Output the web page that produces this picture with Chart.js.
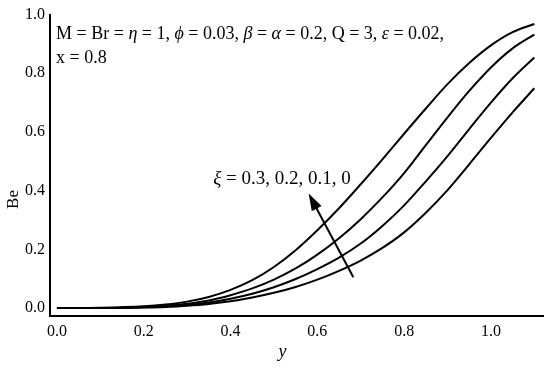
<!DOCTYPE html>
<html>
<head>
<meta charset="utf-8">
<script src="https://cdn.jsdelivr.net/npm/chart.js@4.4.1/dist/chart.umd.min.js"></script>
<style>
  html, body { margin: 0; padding: 0; background: #fff; }
  #wrap { width: 550px; height: 369px; }
</style>
</head>
<body>
<div id="wrap"><canvas id="chart"></canvas></div>
<script>
// DATA
const yPos = [0, 0.1, 0.2, 0.25, 0.3, 0.35, 0.4, 0.45, 0.5, 0.55, 0.6, 0.65, 0.7, 0.75, 0.8, 0.85, 0.9, 0.95, 1.0, 1.05, 1.1];
const xiValues = ['0', '0.1', '0.2', '0.3'];
const beXi0  = [0, 0.001, 0.006, 0.012, 0.022, 0.038, 0.062, 0.095, 0.14, 0.197, 0.265, 0.34, 0.422, 0.507, 0.594, 0.68, 0.763, 0.835, 0.895, 0.94, 0.968];
const beXi01 = [0, 0, 0.004, 0.008, 0.015, 0.026, 0.044, 0.067, 0.097, 0.135, 0.182, 0.238, 0.303, 0.377, 0.46, 0.555, 0.65, 0.74, 0.82, 0.885, 0.932];
const beXi02 = [0, 0, 0.003, 0.006, 0.011, 0.019, 0.032, 0.049, 0.071, 0.099, 0.133, 0.172, 0.22, 0.28, 0.35, 0.432, 0.518, 0.61, 0.7, 0.783, 0.854];
const beXi03 = [0, 0, 0.002, 0.004, 0.008, 0.014, 0.023, 0.036, 0.052, 0.072, 0.097, 0.127, 0.162, 0.205, 0.258, 0.325, 0.402, 0.49, 0.58, 0.667, 0.749];
const xTicks = [0, 0.2, 0.4, 0.6, 0.8, 1.0];
const yTicks = [0, 0.2, 0.4, 0.6, 0.8, 1.0];

const series = [beXi0, beXi01, beXi02, beXi03];
const serif = '"Liberation Serif", "DejaVu Serif", serif';

function toPoints(vals){
  return yPos.map((x, i) => ({x: x, y: vals[i]}));
}

// annotations: axis titles, parameter text, xi label and arrow
const notes = {
  id: 'notes',
  afterDatasetsDraw(chart){
    const c = chart.ctx;
    const xs = chart.scales.x, ys = chart.scales.y;
    const px = v => xs.getPixelForValue(v);
    const py = v => ys.getPixelForValue(v);

    function runs(parts, x, y, size){
      let cx = x;
      parts.forEach(p => {
        c.font = (p[1] ? 'italic ' : '') + size + 'px ' + serif;
        c.fillText(p[0], cx, y);
        cx += c.measureText(p[0]).width;
      });
    }

    c.save();
    c.fillStyle = '#000';
    c.textBaseline = 'alphabetic';
    c.textAlign = 'left';
    runs([['M = Br = ', 0], ['\u03b7', 1], [' = 1, ', 0], ['\u03d5', 1], [' = 0.03, ', 0],
          ['\u03b2', 1], [' = ', 0], ['\u03b1', 1], [' = 0.2, Q = 3, ', 0], ['\u03b5', 1], [' = 0.02,', 0]],
         px(-0.002), py(0.917), 18);
    runs([['x = 0.8', 0]], px(-0.002), py(0.834), 18);
    runs([['\u03be', 1], [' = 0.3, 0.2, 0.1, 0', 0]], px(0.36), py(0.424), 19);

    // axis titles
    c.textAlign = 'center';
    c.textBaseline = 'middle';
    c.font = 'italic 18px ' + serif;
    c.fillText('y', px(0.52), 352);
    c.save();
    c.translate(14, py(0.37));
    c.rotate(-Math.PI / 2);
    c.font = '17px ' + serif;
    c.fillText('Be', 0, 0);
    c.restore();

    // arrow
    const x1 = px(0.683), y1 = py(0.105), x2 = px(0.58), y2 = py(0.39);
    const ang = Math.atan2(y2 - y1, x2 - x1);
    const cs = Math.cos(ang), sn = Math.sin(ang);
    c.strokeStyle = '#000';
    c.lineWidth = 2;
    c.beginPath();
    c.moveTo(x1, y1);
    c.lineTo(x2 - 10 * cs, y2 - 10 * sn);
    c.stroke();
    c.beginPath();
    c.moveTo(x2, y2);
    c.lineTo(x2 - 17 * cs + 5.5 * sn, y2 - 17 * sn - 5.5 * cs);
    c.lineTo(x2 - 17 * cs - 5.5 * sn, y2 - 17 * sn + 5.5 * cs);
    c.closePath();
    c.fill();
    c.restore();
  }
};

new Chart(document.getElementById('chart'), {
  type: 'line',
  data: {
    datasets: series.map((s, i) => ({
      label: '\u03be = ' + xiValues[i],
      data: toPoints(s),
      borderColor: '#000',
      borderWidth: 2,
      pointRadius: 0,
      fill: false,
      cubicInterpolationMode: 'monotone'
    }))
  },
  options: {
    responsive: true,
    maintainAspectRatio: false,
    animation: false,
    layout: { padding: { top: 13, right: 7, left: 0, bottom: 0 } },
    plugins: { legend: { display: false }, tooltip: { enabled: false } },
    scales: {
      x: {
        type: 'linear',
        min: -0.016,
        max: 1.12,
        afterBuildTicks: s => { s.ticks = xTicks.map(v => ({value: v})); },
        afterFit: s => { s.height = 53; },
        grid: { display: false, drawTicks: false },
        border: { display: true, color: '#000', width: 2 },
        ticks: {
          color: '#000',
          padding: 6,
          font: { family: serif, size: 16 },
          callback: v => Number(v).toFixed(1)
        }
      },
      y: {
        type: 'linear',
        min: -0.027,
        max: 1.0,
        afterBuildTicks: s => { s.ticks = yTicks.map(v => ({value: v})); },
        afterFit: s => { s.width = 50; },
        grid: { display: false, drawTicks: false },
        border: { display: true, color: '#000', width: 2 },
        ticks: {
          color: '#000',
          padding: 5,
          font: { family: serif, size: 16 },
          callback: v => Number(v).toFixed(1)
        }
      }
    }
  },
  plugins: [notes]
});
</script>
</body>
</html>
